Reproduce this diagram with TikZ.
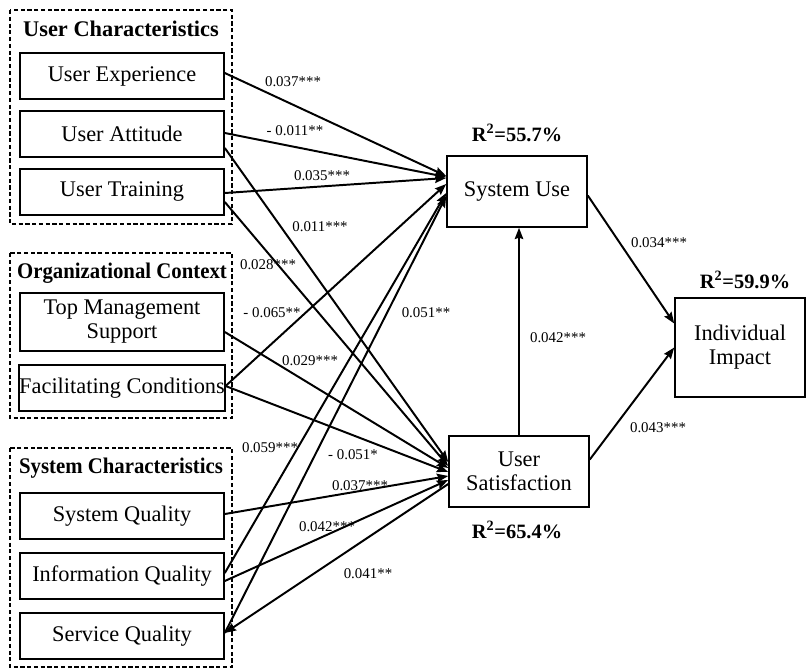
\documentclass[tikz,border=0pt]{standalone}
\usepackage{fontspec}
\setmainfont{Liberation Serif}
\usetikzlibrary{arrows.meta,calc}

\begin{document}
\begin{tikzpicture}[x=0.025cm,y=-0.025cm,
  varbox/.style={draw,line width=1.1pt,inner sep=0pt,align=center,
    minimum width=5.1cm,minimum height=1.15cm,font=\fontsize{15.9}{17}\selectfont},
  groupbox/.style={draw,line width=1.1pt,dash pattern=on 3pt off 1.8pt},
  grouptitle/.style={inner sep=0pt,font=\fontsize{15.9}{17}\selectfont\bfseries},
  coef/.style={inner sep=0pt,font=\fontsize{10.6}{12}\selectfont},
  rsq/.style={inner sep=0pt,font=\fontsize{14.5}{16}\selectfont\bfseries},
  link/.style={line width=1.4pt,-{Stealth[length=8pt,width=6pt,inset=1pt]}}
]
\useasboundingbox (0,0) rectangle (806,671);

% dashed groups
\draw[groupbox] (10,10) rectangle (232,224);
\draw[groupbox] (10,253) rectangle (232,418);
\draw[groupbox] (10,448) rectangle (232,667);
\node[grouptitle] (uc) at (121,29) {User Characteristics};
\node[grouptitle] (oc) at (122,273) {\scalebox{0.93}[1]{Organizational Context}};
\node[grouptitle] (sc) at (121,468) {\scalebox{0.93}[1]{System Characteristics}};

% antecedents
\node[varbox] (ue) at (122,76) {User Experience};
\node[varbox] (ua) at (122,134) {User Attitude};
\node[varbox] (ut) at (122,192) {User Training};
\node[varbox,minimum height=1.45cm] (tms) at (122,322) {Top Management\\Support};
\node[varbox] (fc) at (122,388) {Facilitating Conditions};
\node[varbox] (sysq) at (122,516) {System Quality};
\node[varbox] (infoq) at (122,576) {Information Quality};
\node[varbox] (servq) at (122,636) {Service Quality};

% outcomes
\node[varbox,minimum width=3.5cm,minimum height=1.775cm] (su) at (517,191.5) {System Use};
\node[varbox,minimum width=3.5cm,minimum height=1.775cm] (us) at (519,471.5) {User\\Satisfaction};
\node[varbox,minimum width=3.25cm,minimum height=2.475cm] (ii) at (740,347.5) {Individual\\Impact};

\node[rsq] (r1) at (517,133) {R\textsuperscript{2}=55.7\%};
\node[rsq] (r2) at (745,280) {R\textsuperscript{2}=59.9\%};
\node[rsq] (r3) at (517,530) {R\textsuperscript{2}=65.4\%};

% paths to system use
\draw[link] ($(ue.east)+(0,-3)$) -- ($(su.west)+(0,-15.5)$);
\draw[link] ($(ua.east)+(0,-1)$) -- ($(su.west)+(0,-14.5)$);
\draw[link] ($(ut.east)+(0,1)$) -- ($(su.west)+(0,-13.5)$);
\draw[link] ($(fc.east)+(0,-2)$) -- ($(su.west)+(0,-7.5)$);
\draw[link] ($(infoq.east)+(0,-3)$) -- ($(su.west)+(0,1.5)$);
\draw[link] ($(servq.east)+(0,-3)$) -- ($(su.west)+(0,4.5)$);

% paths to user satisfaction
\draw[link] ($(ua.east)+(0,14)$) -- ($(us.west)+(0,-9.5)$);
\draw[link] ($(ut.east)+(0,10)$) -- ($(us.west)+(0,-5.5)$);
\draw[link] ($(tms.east)+(0,10)$) -- ($(us.west)+(0,-3.5)$);
\draw[link] ($(fc.east)+(0,-2)$) -- ($(us.west)+(0,0.5)$);
\draw[link] ($(sysq.east)+(0,-2)$) -- ($(us.west)+(0,4.5)$);
\draw[link] ($(infoq.east)+(0,5)$) -- ($(us.west)+(0,8.5)$);
\draw[link,{Stealth[length=8pt,width=6pt,inset=1pt]}-] ($(servq.east)+(0,-3)$) -- ($(us.west)+(0,12.5)$);

% inner model
\draw[link] (us.north) -- (us.north |- su.south);
\draw[link] ($(su.east)+(0,4)$) -- ($(ii.west)+(0,-24)$);
\draw[link] ($(us.east)+(0,-12)$) -- (ii.west);

% coefficients
\node[coef] (c1) at (293,82) {0.037***};
\node[coef] (c2) at (295,131) {- 0.011**};
\node[coef] (c3) at (322,176) {0.035***};
\node[coef] (c4) at (320,227) {0.011***};
\node[coef] (c5) at (268,265) {0.028***};
\node[coef] (c6) at (272,313) {- 0.065**};
\node[coef] (c7) at (426,313) {0.051**};
\node[coef] (c8) at (310,361) {0.029***};
\node[coef] (c9) at (270,448) {0.059***};
\node[coef] (c10) at (353,455) {- 0.051*};
\node[coef] (c11) at (360,486) {0.037***};
\node[coef] (c12) at (327,527) {0.042***};
\node[coef] (c13) at (368,574) {0.041**};
\node[coef] (c14) at (659,243) {0.034***};
\node[coef] (c15) at (558,338) {0.042***};
\node[coef] (c16) at (658,428) {0.043***};
\end{tikzpicture}
\end{document}
